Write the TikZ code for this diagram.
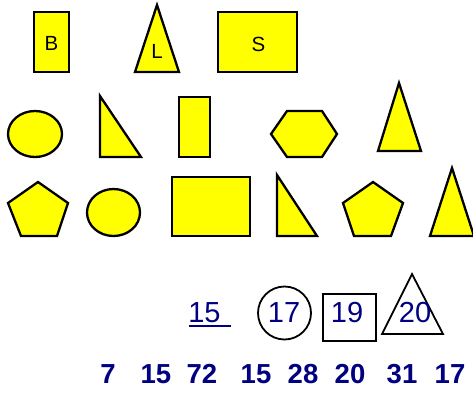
\documentclass[tikz,border=0pt]{standalone}
\usepackage{fontspec}
\setmainfont{Liberation Sans}
\usepackage{xcolor}
\usetikzlibrary{positioning}
\definecolor{navy}{RGB}{0,0,128}
\definecolor{shapeyellow}{RGB}{255,255,0}

\begin{document}
\begin{tikzpicture}[x=1pt, y=-1pt,
    shp/.style={draw=black, fill=shapeyellow, line width=2.3pt},
    outl/.style={draw=black, line width=1.8pt},
    letter/.style={anchor=base, inner sep=0pt, font=\fontsize{20.5}{24}\selectfont},
    num/.style={anchor=base, inner sep=0pt, text=navy, font=\fontsize{29}{34}\selectfont},
    bignum/.style={anchor=base, inner sep=0pt, text=navy, font=\fontsize{27.5}{32}\selectfont\bfseries}]
  \useasboundingbox (0,0) rectangle (473,392);

  % First row: the three labelled shapes.
  \draw[shp] (34,12) rectangle (69,72);
  \node[letter] (lblB) at (51.5,50.5) {B};
  \draw[shp] (157,5) -- (179,72) -- (135,72) -- cycle;
  \node[letter] (lblL) at (157,58.5) {L};
  \draw[shp] (218,12) rectangle (297,72);
  \node[letter] (lblS) at (258.5,51) {S};

  % Second row.
  \draw[shp] (35,134) ellipse (27 and 23);
  \draw[shp] (100,96) -- (141,157) -- (100,157) -- cycle;
  \draw[shp] (179,97) rectangle (210,157);
  \draw[shp] (271,134) -- (287,111) -- (322,111) -- (337,134) -- (322,157) -- (287,157) -- cycle;
  \draw[shp] (399,83) -- (421,151) -- (378,151) -- cycle;

  % Third row.
  \draw[shp] (38,182) -- (68,203) -- (57,236) -- (21,236) -- (8,203) -- cycle;
  \draw[shp] (113.5,212.5) ellipse (26.5 and 23.5);
  \draw[shp] (172,177) rectangle (250,236);
  \draw[shp] (277,175) -- (317,236) -- (277,236) -- cycle;
  \draw[shp] (373,182) -- (403,203) -- (391,236) -- (354,236) -- (343,203) -- cycle;
  \draw[shp] (452,168) -- (474,236) -- (430,236) -- cycle;

  % Fourth row: framed numbers.
  \node[num] (n15) at (204.5,322) {15};
  \coordinate (ul1) at (189,326);
  \coordinate (ul2) at (231,326);
  \draw[navy, line width=1.6pt] (ul1) -- (ul2);
  \draw[outl] (284.5,313) circle (26.5);
  \node[num] (n17) at (284,322) {17};
  \draw[outl] (323,294) rectangle (376,341);
  \node[num] (n19) at (347,322) {19};
  \draw[outl] (412,274) -- (443,334) -- (382,334) -- cycle;
  \node[num] (n20) at (415,322) {20};

  % Last row: bold numbers.
  \foreach \x/\lab [count=\i] in {108/7, 156/15, 202/72, 256/15, 303/28, 350/20, 402/31, 450/17}{
    \node[bignum] (b\i) at (\x,383) {\lab};
  }
\end{tikzpicture}
\end{document}
